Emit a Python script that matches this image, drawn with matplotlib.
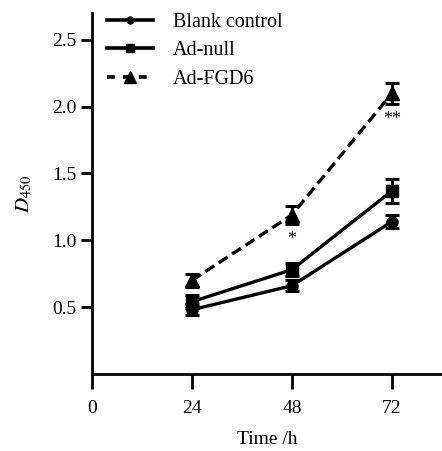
import numpy as np
import matplotlib
matplotlib.use("Agg")
import matplotlib.pyplot as plt
from matplotlib.lines import Line2D

plt.rcParams["font.family"] = ["Liberation Serif", "DejaVu Serif"]
plt.rcParams["mathtext.fontset"] = "stix"

hours = [24, 48, 72]
blank = [0.48, 0.66, 1.14]
blank_err = [0.04, 0.04, 0.05]
adnull = [0.54, 0.78, 1.37]
adnull_err = [0.05, 0.05, 0.09]
fgd6 = [0.70, 1.19, 2.10]
fgd6_err = [0.05, 0.07, 0.08]
stars = ["", "*", "**"]
names = ["Blank control", "Ad-null", "Ad-FGD6"]

fig = plt.figure(figsize=(4.42, 4.51), dpi=100)
ax = fig.add_axes([0.208, 0.171, 0.792, 0.80])

dash = (0, (3.2, 1.6))
kw = dict(color="black", lw=2.4, capsize=5, capthick=2.2, elinewidth=2.2)
ax.errorbar(hours, blank, yerr=blank_err, marker="o", ms=8, **kw)
ax.errorbar(hours, adnull, yerr=adnull_err, marker="s", ms=8, **kw)
ax.errorbar(hours, fgd6, yerr=fgd6_err, marker="^", ms=10, ls=dash, **kw)

for h, v, e, s in zip(hours, fgd6, fgd6_err, stars):
    if s:
        ax.text(h, v - e - 0.05, s, ha="center", va="top", fontsize=13)

ax.set_xlim(0, 84)
ax.set_ylim(0, 2.7)
ax.set_xticks([0, 24, 48, 72])
ax.set_yticks([0.5, 1.0, 1.5, 2.0, 2.5])
ax.set_yticklabels(["0.5", "1.0", "1.5", "2.0", "2.5"])
for sp in ["top", "right"]:
    ax.spines[sp].set_visible(False)
for sp in ["left", "bottom"]:
    ax.spines[sp].set_linewidth(2.0)
ax.tick_params(axis="y", direction="out", length=8, width=2.0, labelsize=14, pad=3)
ax.tick_params(axis="x", direction="out", length=11, width=2.0, labelsize=14, pad=8)
ax.set_xlabel("Time /h", fontsize=14, labelpad=10)
ax.set_ylabel(r"$D_{450}$", fontsize=15, labelpad=13)

handles = [
    Line2D([], [], color="black", lw=2.6, marker="o", ms=5),
    Line2D([], [], color="black", lw=2.6, marker="s", ms=6),
    Line2D([], [], color="black", lw=2.6, marker="^", ms=8, ls=(0, (2.2, 2.2))),
]
ax.legend(handles, names, loc="upper left", bbox_to_anchor=(-0.01, 1.05), frameon=False,
          fontsize=14.5, handlelength=2.3, handletextpad=1.0, labelspacing=0.45)

fig.savefig("out.png", dpi=100)
